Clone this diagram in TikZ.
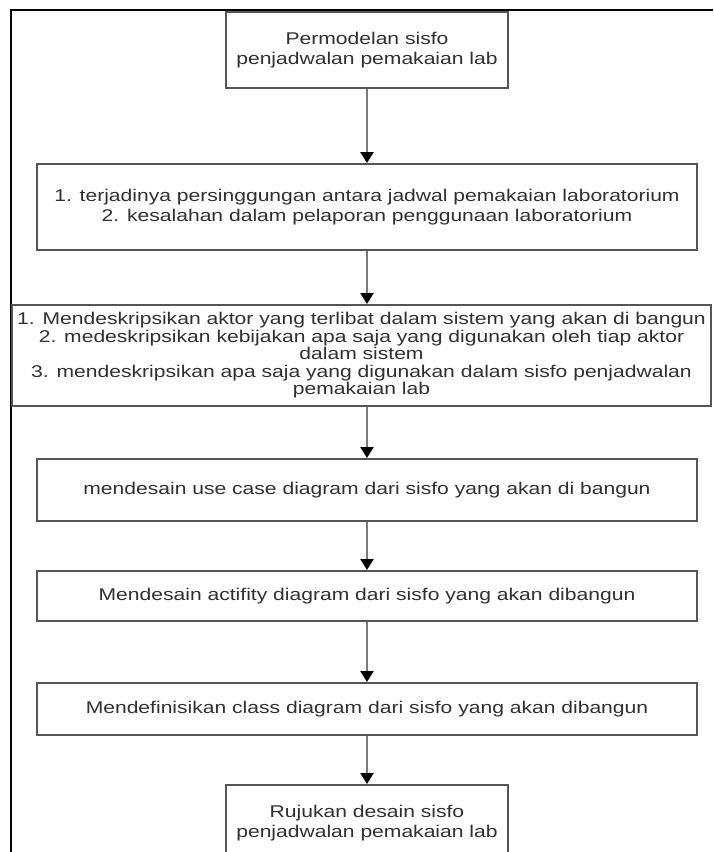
\documentclass[tikz,border=0pt]{standalone}
\usepackage{fontspec}
\setmainfont{Liberation Sans}[FakeStretch=1.24]
\usetikzlibrary{arrows.meta}
\definecolor{boxline}{HTML}{555555}
\definecolor{txt}{HTML}{303030}
\definecolor{flow}{HTML}{7A7A7A}
\tikzset{
  stepbox/.style={draw=boxline, line width=2pt, fill=white, rectangle,
    inner sep=2pt, align=center, text=txt,
    font=\fontsize{17}{19.5}\selectfont},
  flowarrow/.style={draw=flow, line width=2.4pt,
    -{Triangle[width=13pt,length=11pt,color=black]}},
  frameline/.style={draw=black, line width=2.8pt}
}
\begin{document}
\begin{tikzpicture}[x=1pt,y=-1pt]
  \clip (0,0) rectangle (713,852);
  \fill[white] (0,0) rectangle (713,852);
  % outer frame (top and left edges)
  \draw[frameline] (11,852) -- (11,10) -- (713,10);

  \node[stepbox, minimum width=282pt, minimum height=76pt] (b1) at (367,50)
    {Permodelan sisfo\\penjadwalan pemakaian lab};
  \node[stepbox, minimum width=660pt, minimum height=86pt] (b2) at (367,207)
    {1. terjadinya persinggungan antara jadwal pemakaian laboratorium\\
     2. kesalahan dalam pelaporan penggunaan laboratorium};
  \node[stepbox, minimum width=699pt, minimum height=101pt,
        font=\fontsize{17}{17.5}\selectfont] (b3) at (361.5,355.5)
    {1. Mendeskripsikan aktor yang terlibat dalam sistem yang akan di bangun\\
     2. medeskripsikan kebijakan apa saja yang digunakan oleh tiap aktor\\
     dalam sistem\\
     3. mendeskripsikan apa saja yang digunakan dalam sisfo penjadwalan\\
     pemakaian lab};
  \node[stepbox, minimum width=660pt, minimum height=62pt] (b4) at (367,490)
    {mendesain use case diagram dari sisfo yang akan di bangun};
  \node[stepbox, minimum width=660pt, minimum height=50pt] (b5) at (367,596)
    {Mendesain actifity diagram dari sisfo yang akan dibangun};
  \node[stepbox, minimum width=660pt, minimum height=52pt] (b6) at (367,709)
    {Mendefinisikan class diagram dari sisfo yang akan dibangun};
  \node[stepbox, minimum width=282pt, minimum height=76pt] (b7) at (367,823)
    {Rujukan desain sisfo\\penjadwalan pemakaian lab};

  \draw[flowarrow] (b1.south) -- (b1.south |- b2.north);
  \draw[flowarrow] (b2.south) -- (b2.south |- b3.north);
  \draw[flowarrow] (b2.south |- b3.south) -- (b4.north);
  \draw[flowarrow] (b4.south) -- (b5.north);
  \draw[flowarrow] (b5.south) -- (b6.north);
  \draw[flowarrow] (b6.south) -- (b7.north);
\end{tikzpicture}
\end{document}
